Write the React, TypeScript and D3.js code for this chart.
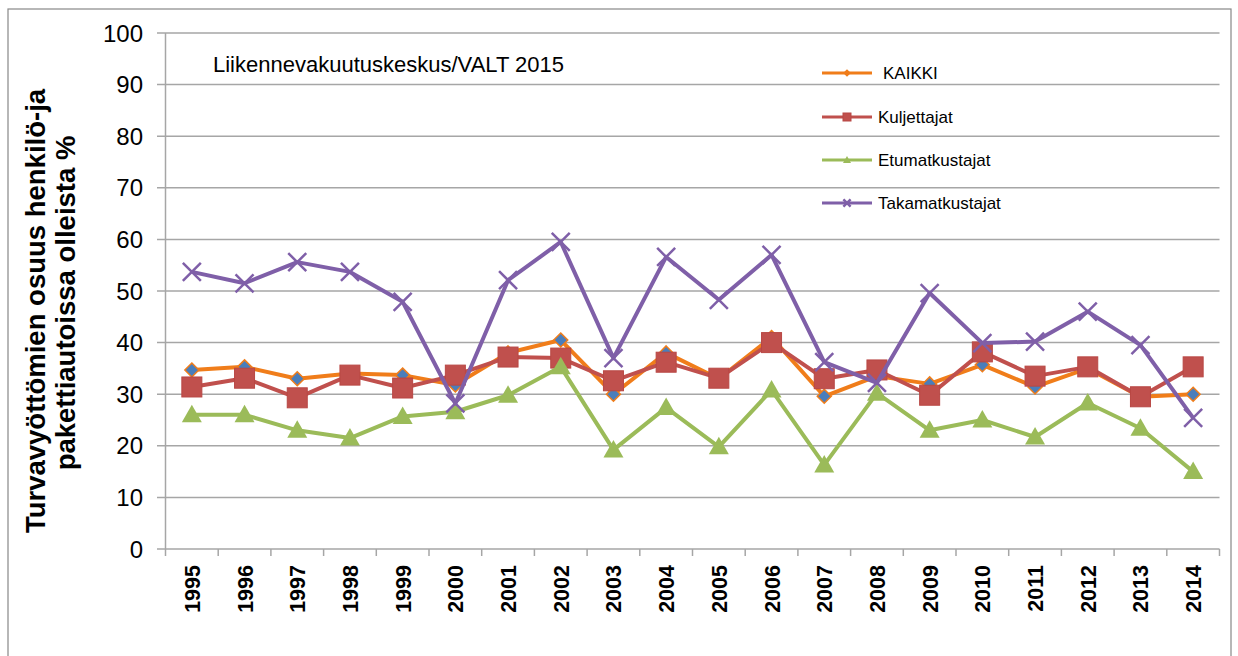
import React from "react";
import * as d3 from "d3";

const years = ["1995","1996","1997","1998","1999","2000","2001","2002","2003","2004","2005","2006","2007","2008","2009","2010","2011","2012","2013","2014"];
const kaikki = [34.7,35.3,33,34,33.7,31.8,38,40.5,30,38,33,41,29.6,33.5,32,35.7,31.4,35,29.5,30];
const kuljettajat = [31.4,33.1,29.3,33.7,31.2,33.7,37.2,37,32.6,36.2,33.1,40,33,34.7,29.8,38.2,33.5,35.3,29.5,35.3];
const etumatkustajat = [26,26,23,21.5,25.7,26.6,29.8,35.3,19.2,27.4,19.8,30.8,16.3,30.2,23,25,21.7,28.3,23.4,15];
const takamatkustajat = [53.7,51.5,55.6,53.7,47.9,28.2,52.1,59.5,37,56.6,48.3,57,36.2,32.2,49.6,39.9,40.2,46,39.5,25.4];
const yTicks = [0,10,20,30,40,50,60,70,80,90,100];

type Series = { name: string; values: number[]; color: string; marker: string; mfill: string };
const series: Series[] = [
  { name: "KAIKKI", values: kaikki, color: "#F07D1A", marker: "diamond", mfill: "#4A7EBB" },
  { name: "Kuljettajat", values: kuljettajat, color: "#C0504D", marker: "square", mfill: "#C0504D" },
  { name: "Etumatkustajat", values: etumatkustajat, color: "#9BBB59", marker: "triangle", mfill: "#9BBB59" },
  { name: "Takamatkustajat", values: takamatkustajat, color: "#7F5FA8", marker: "x", mfill: "#7F5FA8" },
];

const L = 165.5, R = 1219.5, T = 33, B = 549;

function Marker({ kind, x, y, color, fill, s = 1 }: any) {
  if (kind === "diamond") {
    const r = 7 * s;
    return <path d={`M${x},${y - r}L${x + r},${y}L${x},${y + r}L${x - r},${y}Z`} fill={fill} stroke={color} strokeWidth={1.5} />;
  }
  if (kind === "square") {
    const r = 10 * s;
    return <rect x={x - r} y={y - r} width={2 * r} height={2 * r} fill={fill} stroke="#B84744" strokeWidth={1} />;
  }
  if (kind === "triangle") {
    const r = 10 * s;
    return <path d={`M${x},${y - r}L${x + r},${y + r * 0.75}L${x - r},${y + r * 0.75}Z`} fill={fill} />;
  }
  const r = 9 * s;
  return <path d={`M${x - r},${y - r}L${x + r},${y + r}M${x - r},${y + r}L${x + r},${y - r}`} stroke={color} strokeWidth={2.5} />;
}

export default function App() {
  const x = d3.scaleBand<string>().domain(years).range([L, R]);
  const y = d3.scaleLinear().domain([0, 100]).range([B, T]);
  const cx = (d: string) => (x(d) as number) + x.bandwidth() / 2;
  const line = d3.line<number>().x((_, i) => cx(years[i])).y((v) => y(v));
  const font = "Arial, 'Liberation Sans', sans-serif";
  const legendY = [73, 117, 160, 203];
  return (
    <svg width={1238} height={656} style={{ position: "absolute", left: 0, top: 0, background: "#fff" }} fontFamily={font}>
      <rect x={8} y={9} width={1223} height={660} fill="#fff" stroke="#888" strokeWidth={1.2} />
      {yTicks.map((t) => (
        <g key={t}>
          <line x1={157} x2={R} y1={y(t)} y2={y(t)} stroke="#A6A6A6" strokeWidth={1.5} />
          <text x={143} y={y(t)} dy="0.36em" textAnchor="end" fontSize={24} fill="#000">{t}</text>
        </g>
      ))}
      <line x1={L} x2={L} y1={T} y2={B} stroke="#A6A6A6" strokeWidth={1.5} />
      {years.concat(["end"]).map((d, i) => {
        const xx = L + i * x.step();
        return <line key={"t" + i} x1={xx} x2={xx} y1={B} y2={B + 7} stroke="#A6A6A6" strokeWidth={1.5} />;
      })}
      {years.map((d) => (
        <text key={d} transform={`translate(${cx(d) + 8},${565}) rotate(-90)`} textAnchor="end" fontSize={21.5} fontWeight="bold" fill="#000">{d}</text>
      ))}
      <text transform="translate(45,311) rotate(-90)" textAnchor="middle" fontSize={27.5} fontWeight="bold" fill="#000">Turvavyöttömien osuus henkilö-ja</text>
      <text transform="translate(75,303) rotate(-90)" textAnchor="middle" fontSize={27.5} fontWeight="bold" fill="#000">pakettiautoissa olleista %</text>
      <text x={213} y={72} fontSize={22} fill="#000">Liikennevakuutuskeskus/VALT 2015</text>
      {series.map((s) => (
        <g key={s.name}>
          <path d={line(s.values) as string} fill="none" stroke={s.color} strokeWidth={4} strokeLinejoin="round" />
          {s.values.map((v, i) => (
            <Marker key={i} kind={s.marker} x={cx(years[i])} y={y(v)} color={s.color} fill={s.mfill} />
          ))}
        </g>
      ))}
      {series.map((s, i) => (
        <g key={"l" + s.name}>
          <line x1={822} x2={872} y1={legendY[i]} y2={legendY[i]} stroke={s.color} strokeWidth={3} />
          <Marker kind={s.marker} x={847} y={legendY[i]} color={s.color} fill={s.color} s={0.4} />
          <text x={i === 0 ? 883 : 878} y={legendY[i]} dy="0.35em" fontSize={17} fill="#000">{s.name}</text>
        </g>
      ))}
    </svg>
  );
}
